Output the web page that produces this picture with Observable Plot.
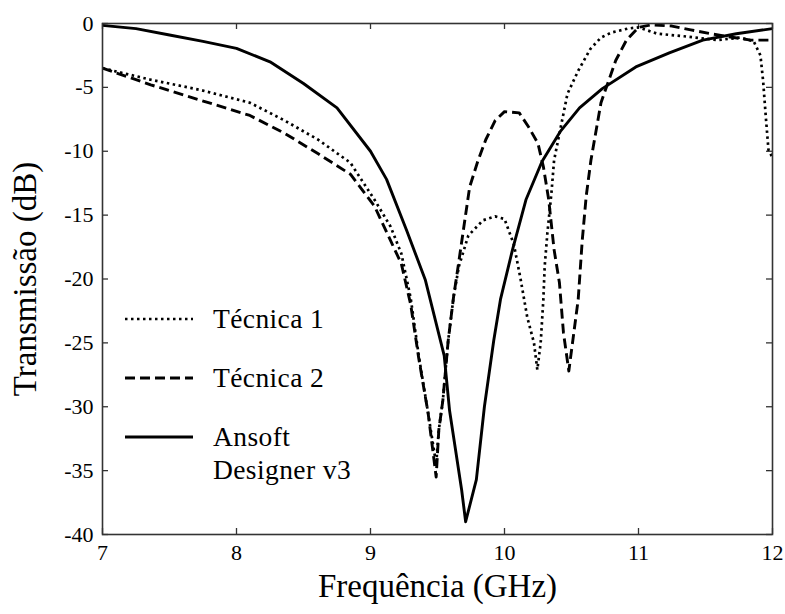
<!DOCTYPE html>
<html><head><meta charset="utf-8">
<script src="https://cdn.jsdelivr.net/npm/d3@7"></script>
<script src="https://cdn.jsdelivr.net/npm/@observablehq/plot@0.6"></script>
<style>body{margin:0;background:#fff}</style>
</head><body><div id="chart"></div>
<script>
// ---- data ----
const xTicks = [7, 8, 9, 10, 11, 12];
const yTicks = [0, -5, -10, -15, -20, -25, -30, -35, -40];
const seriesNames = ["Técnica 1", "Técnica 2", "Ansoft Designer v3"];
const legendLabels = [["Técnica 1"], ["Técnica 2"], ["Ansoft", "Designer v3"]];

const tec1Freq = [7.0, 7.36, 7.73, 8.1, 8.36, 8.61, 8.85, 9.03, 9.15, 9.23, 9.3, 9.36, 9.43, 9.49, 9.51, 9.54, 9.58, 9.62, 9.66, 9.73, 9.84, 9.93, 10.0, 10.07, 10.12, 10.17, 10.22, 10.245, 10.27, 10.29, 10.3, 10.32, 10.35, 10.37, 10.42, 10.47, 10.55, 10.64, 10.72, 10.8, 10.92, 11.0, 11.14, 11.34, 11.59, 11.76, 11.86, 11.91, 11.93, 11.95, 11.97, 12.0];
const tec1Db   = [-3.5, -4.4, -5.2, -6.2, -7.6, -9.1, -10.9, -13.8, -15.9, -18.0, -21.5, -26.0, -30.5, -34.5, -31.8, -29.5, -24.8, -21.4, -19.0, -16.6, -15.4, -15.1, -15.3, -17.3, -20.0, -23.0, -25.0, -27.1, -25.0, -21.6, -19.0, -16.4, -13.3, -10.7, -8.1, -5.5, -3.7, -2.0, -1.1, -0.7, -0.4, -0.3, -0.8, -1.0, -1.3, -1.1, -1.4, -2.5, -4.5, -7.3, -9.9, -10.5];

const tec2Freq = [7.0, 7.36, 7.73, 8.1, 8.36, 8.61, 8.85, 9.03, 9.15, 9.23, 9.3, 9.36, 9.43, 9.49, 9.51, 9.54, 9.58, 9.62, 9.65, 9.69, 9.74, 9.8, 9.86, 9.93, 10.0, 10.11, 10.18, 10.25, 10.29, 10.33, 10.37, 10.41, 10.44, 10.48, 10.51, 10.55, 10.58, 10.61, 10.645, 10.72, 10.83, 10.91, 11.0, 11.1, 11.25, 11.39, 11.54, 11.71, 11.84, 12.0];
const tec2Db   = [-3.5, -4.8, -6.0, -7.2, -8.6, -10.2, -11.8, -14.3, -17.0, -18.8, -22.0, -26.2, -30.5, -35.5, -31.8, -29.5, -24.8, -21.4, -19.3, -16.4, -12.8, -10.8, -9.1, -7.6, -6.9, -7.0, -8.1, -9.4, -11.2, -13.8, -17.7, -20.3, -24.2, -27.2, -24.8, -21.6, -17.0, -13.5, -10.7, -6.2, -2.9, -1.3, -0.3, -0.1, -0.2, -0.5, -0.8, -1.1, -1.3, -1.3];

const ansoftFreq = [7.0, 7.25, 7.5, 7.75, 8.0, 8.25, 8.5, 8.75, 9.0, 9.12, 9.27, 9.41, 9.55, 9.59, 9.68, 9.71, 9.79, 9.85, 9.92, 9.97, 10.06, 10.16, 10.28, 10.42, 10.56, 10.73, 10.98, 11.23, 11.48, 11.73, 12.0];
const ansoftDb   = [-0.15, -0.4, -0.9, -1.4, -1.95, -3.0, -4.7, -6.6, -10.0, -12.2, -16.2, -20.1, -26.0, -30.3, -36.5, -39.0, -35.7, -30.0, -24.8, -21.6, -17.7, -13.8, -10.8, -8.4, -6.6, -5.1, -3.4, -2.3, -1.3, -0.8, -0.4];

// ---- build ----
const freqs = [tec1Freq, tec2Freq, ansoftFreq];
const dbs = [tec1Db, tec2Db, ansoftDb];
const dashes = ["2.5,3.5", "10,5", null];
const widths = [2.7, 2.9, 2.9];
const seriesRows = seriesNames.map((name, s) => freqs[s].map((f, i) => ({series: name, f, db: dbs[s][i]})));

const W = 785, H = 614, mL = 102, mR = 13, mT = 23, mB = 80;
const innerW = W - mL - mR, innerH = H - mT - mB;
const axisColor = "#333";
const serif = "'Liberation Serif', 'Times New Roman', Times, serif";

const chart = Plot.plot({
  width: W, height: H,
  marginLeft: mL, marginRight: mR, marginTop: mT, marginBottom: mB,
  style: {background: "#fff", fontFamily: serif, fontSize: "22px", color: "#000"},
  x: {domain: [7, 12], ticks: xTicks, tickSize: 0, tickPadding: 10, tickFormat: d => String(d), label: null},
  y: {domain: [-40, 0], ticks: yTicks, tickSize: 0, tickPadding: 9, tickFormat: d => String(d), label: null},
  marks: [
    Plot.tickX(xTicks, {x: d => d, insetTop: innerH - 6, stroke: axisColor, strokeWidth: 1.3}),
    Plot.tickX(xTicks, {x: d => d, insetBottom: innerH - 6, stroke: axisColor, strokeWidth: 1.3}),
    Plot.tickY(yTicks, {y: d => d, insetRight: innerW - 6, stroke: axisColor, strokeWidth: 1.3}),
    Plot.tickY(yTicks, {y: d => d, insetLeft: innerW - 6, stroke: axisColor, strokeWidth: 1.3}),
    ...seriesRows.map((rows, s) => Plot.line(rows, {
      x: "f", y: "db", stroke: "#000", strokeWidth: widths[s],
      strokeDasharray: dashes[s], strokeLinecap: "butt", strokeLinejoin: "round"
    })),
    Plot.frame({stroke: axisColor, strokeWidth: 1.6}),
    Plot.text(["Frequência (GHz)"], {text: d => d, frameAnchor: "bottom", textAnchor: "middle", dy: 62, fontSize: 33, fill: "#000"}),
    Plot.text(["Transmissão (dB)"], {text: d => d, frameAnchor: "left", textAnchor: "middle", dx: -77, rotate: -90, fontSize: 33, fill: "#000"})
  ]
});
chart.setAttribute("font-family", serif);

// legend drawn inside the frame
const svg = d3.select(chart);
const lg = svg.append("g")
  .attr("font-family", serif).attr("font-size", 27.5)
  .attr("text-anchor", "start").attr("fill", "#000");
const rowY = [mT + 296, mT + 355, mT + 414];
legendLabels.forEach((lines, s) => {
  lg.append("line")
    .attr("x1", mL + 23).attr("x2", mL + 91)
    .attr("y1", rowY[s]).attr("y2", rowY[s])
    .attr("stroke", "#000").attr("stroke-width", widths[s])
    .attr("stroke-dasharray", dashes[s]);
  lines.forEach((t, j) => {
    lg.append("text")
      .attr("x", mL + 111)
      .attr("y", rowY[s] + 9 + j * 33)
      .attr("letter-spacing", 0.4)
      .text(t);
  });
});

document.getElementById("chart").appendChild(chart);
</script>
</body></html>
